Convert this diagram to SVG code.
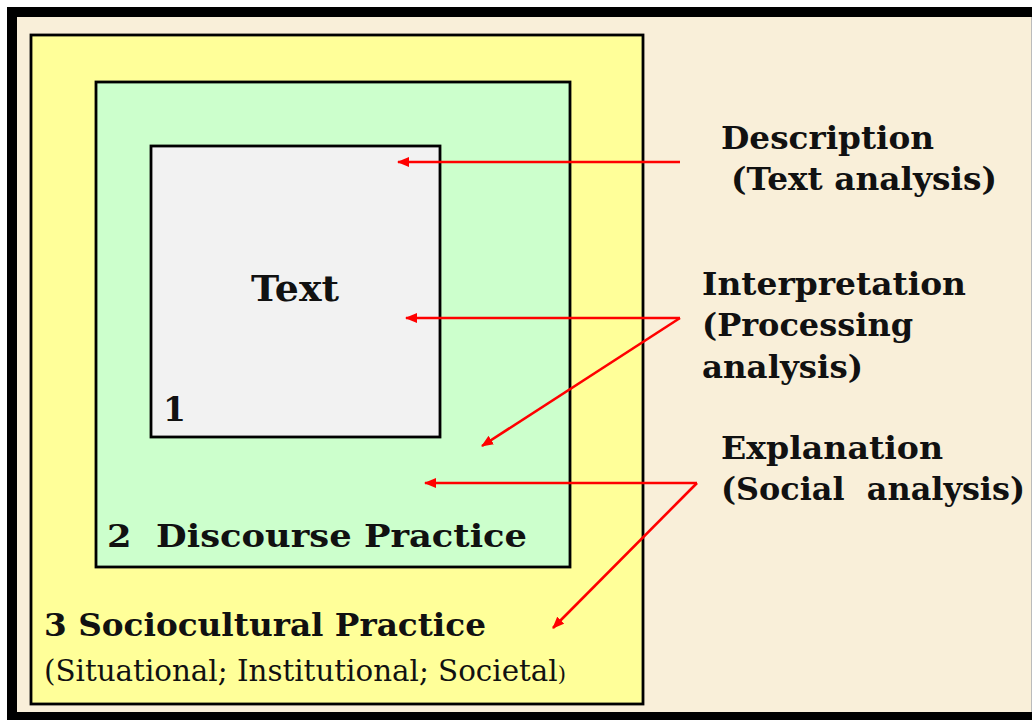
<svg xmlns="http://www.w3.org/2000/svg" width="1032" height="720" viewBox="0 0 1032 720">
  <style>
    .b { font-family: "DejaVu Serif", "Liberation Serif", serif; font-weight: bold; fill: #111; }
    .r { font-family: "DejaVu Serif", "Liberation Serif", serif; font-weight: normal; fill: #111; }
    .box { stroke: #000; stroke-width: 2.8; }
    .arr { fill: none; stroke: #FF0000; stroke-width: 2.6; marker-end: url(#ah); }
  </style>
  <defs>
    <marker id="ah" viewBox="0 0 12 10" refX="11" refY="5" markerWidth="12" markerHeight="10" markerUnits="userSpaceOnUse" orient="auto">
      <path d="M0,0 L12,5 L0,10 Z" fill="#FF0000"/>
    </marker>
  </defs>
  <rect x="0" y="0" width="1032" height="720" fill="#ffffff"/>
  <rect x="12" y="12" width="1030" height="705" fill="#F9EFD9" stroke="#000" stroke-width="10"/>
  <line x1="1031.5" y1="17" x2="1031.5" y2="712" stroke="#bbb" stroke-width="1"/>

  <g id="sociocultural">
    <rect class="box" x="31" y="35" width="612" height="669" fill="#FFFF99"/>
    <text class="b" x="44" y="636" font-size="31" textLength="442" lengthAdjust="spacingAndGlyphs">3 Sociocultural Practice</text>
    <text class="r" x="44" y="681" font-size="29" textLength="522" lengthAdjust="spacingAndGlyphs">(Situational; Institutional; Societal<tspan font-size="21">)</tspan></text>
  </g>

  <g id="discourse">
    <rect class="box" x="96" y="82" width="474" height="485" fill="#CCFFCC"/>
    <text class="b" x="107" y="547" font-size="32" textLength="420" lengthAdjust="spacingAndGlyphs" xml:space="preserve">2  Discourse Practice</text>
  </g>

  <g id="text-box">
    <rect class="box" x="151" y="146" width="289" height="291" fill="#F2F2F2"/>
    <text class="b" x="251" y="301" font-size="35" textLength="88" lengthAdjust="spacingAndGlyphs">Text</text>
    <text class="b" x="163" y="421" font-size="33">1</text>
  </g>

  <g id="description">
    <text class="b" x="721" y="149" font-size="32" textLength="213" lengthAdjust="spacingAndGlyphs">Description</text>
    <text class="b" x="731" y="190" font-size="32" textLength="266" lengthAdjust="spacingAndGlyphs">(Text analysis)</text>
  </g>

  <g id="interpretation">
    <text class="b" x="702" y="295" font-size="32" textLength="264" lengthAdjust="spacingAndGlyphs">Interpretation</text>
    <text class="b" x="702" y="336" font-size="32" textLength="211" lengthAdjust="spacingAndGlyphs">(Processing</text>
    <text class="b" x="702" y="378" font-size="32" textLength="161" lengthAdjust="spacingAndGlyphs">analysis)</text>
  </g>

  <g id="explanation">
    <text class="b" x="721" y="459" font-size="32" textLength="222" lengthAdjust="spacingAndGlyphs">Explanation</text>
    <text class="b" x="721" y="500" font-size="32" textLength="304" lengthAdjust="spacingAndGlyphs" xml:space="preserve">(Social  analysis)</text>
  </g>

  <g id="connectors">
    <path class="arr" d="M680,162 L398,162"/>
    <path class="arr" d="M680,318 L406,318"/>
    <path class="arr" d="M680,318 L482,446"/>
    <path class="arr" d="M697,483 L425,483"/>
    <path class="arr" d="M697,483 L553,628"/>
  </g>
</svg>
